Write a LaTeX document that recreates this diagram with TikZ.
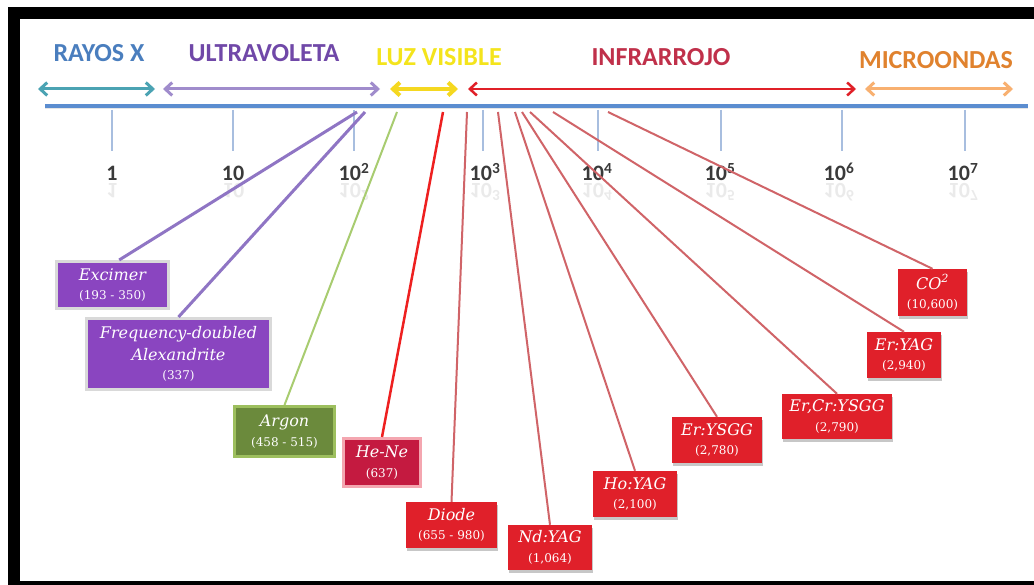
\documentclass[tikz,border=0pt]{standalone}
\usepackage{fontspec}
\setmainfont{DejaVu Serif}
\newfontfamily\headfont{Carlito}
\usetikzlibrary{arrows.meta,shadows}
\definecolor{cRay}{HTML}{4A7EBE}
\definecolor{cUV}{HTML}{7048A8}
\definecolor{cVis}{HTML}{F4E41C}
\definecolor{cIR}{HTML}{C0304A}
\definecolor{cMW}{HTML}{E0822E}
\definecolor{aRay}{HTML}{4BA3B3}
\definecolor{aUV}{HTML}{A08CCC}
\definecolor{aVis}{HTML}{F5D820}
\definecolor{aIR}{HTML}{E02028}
\definecolor{aMW}{HTML}{F8B070}
\definecolor{axisblue}{HTML}{5B8DD0}
\definecolor{tickblue}{HTML}{A8BEDF}
\definecolor{ticktext}{HTML}{3A3A3A}
\definecolor{lnPurple}{HTML}{8F75C4}
\definecolor{lnGreen}{HTML}{A8CC70}
\definecolor{lnBright}{HTML}{EE2020}
\definecolor{lnRed}{HTML}{D06468}
\definecolor{fPurple}{HTML}{8A45C0}
\definecolor{fGreen}{HTML}{6B8A3C}
\definecolor{bGreen}{HTML}{9DBF5E}
\definecolor{fCrimson}{HTML}{C41A40}
\definecolor{bPink}{HTML}{F4A6B0}
\definecolor{fRed}{HTML}{E0202A}
\newcommand\lzname[1]{\itshape #1}
\newcommand\lznum[1]{{\fontsize{12}{19}\selectfont #1}}
\tikzset{
  head/.style={font=\headfont\bfseries\fontsize{26}{30}\selectfont, inner sep=0pt},
  ticklabel/.style={font=\headfont\bfseries\fontsize{22}{26}\selectfont, text=ticktext, inner sep=0pt, anchor=base},
  tickline/.style={draw=tickblue, line width=1.2pt},
  rangearrow/.style={line width=3pt, {Straight Barb[length=7pt,width=13pt]}-{Straight Barb[length=7pt,width=13pt]}},
  laserbox/.style={rectangle, align=center, text=white, inner sep=0pt, font=\fontsize{16}{19.5}\selectfont},
  purplebox/.style={laserbox, fill=fPurple, draw=black!15, line width=3pt},
  greenbox/.style={laserbox, fill=fGreen, draw=bGreen, line width=3pt},
  crimsonbox/.style={laserbox, fill=fCrimson, draw=bPink, line width=3pt},
  redbox/.style={laserbox, fill=fRed, general shadow={fill=black!22, shadow xshift=1pt, shadow yshift=-3pt}},
  conn/.style={line width=2pt},
}
\begin{document}
\begin{tikzpicture}[x=1pt,y=-1pt]
\useasboundingbox (0,0) rectangle (1034,585);
% frame
\fill[black] (8,7) rectangle (1034,585);
\fill[white] (20,19) rectangle (1034,581);

% headings
\node[head, text=cRay] (hray) at (99,53) {RAYOS X};
\node[head, text=cUV] (huv) at (264,53) {ULTRAVOLETA};
\node[head, text=cVis] (hvis) at (439,57) {LUZ VISIBLE};
\node[head, text=cIR] (hir) at (661,57) {INFRARROJO};
\node[head, text=cMW] (hmw) at (936,60) {MICROONDAS};

% range arrows
\coordinate (ra1) at (38,89);  \coordinate (ra2) at (155,89);
\coordinate (ru1) at (163,89); \coordinate (ru2) at (380,89);
\coordinate (rv1) at (390,89); \coordinate (rv2) at (458,89);
\coordinate (ri1) at (468,89); \coordinate (ri2) at (856,89);
\coordinate (rm1) at (865,89); \coordinate (rm2) at (1013,89);
\draw[rangearrow, draw=aRay] (ra1) -- (ra2);
\draw[rangearrow, draw=aUV] (ru1) -- (ru2);
\draw[rangearrow, draw=aVis, line width=4pt] (rv1) -- (rv2);
\draw[rangearrow, draw=aIR, line width=2.5pt] (ri1) -- (ri2);
\draw[rangearrow, draw=aMW] (rm1) -- (rm2);

% axis
\coordinate (axL) at (45,106);
\coordinate (axR) at (1028,106);
\draw[black!10, line width=2pt] ([yshift=-2.5pt]axL) -- ([yshift=-2.5pt]axR);
\draw[axisblue, line width=4pt] (axL) -- (axR);

% ticks
\foreach \n/\x in {t1/112,t2/233,t3/354,t4/483,t5/598,t6/721,t7/842,t8/965}{
  \coordinate (\n) at (\x,110);
  \coordinate (\n b) at (\x,151);
  \draw[tickline] (\n) -- (\n b);
}
% tick labels and their faint reflections
\foreach \n/\x/\t in {l1/112/1,l2/233/10,l3/354/10\textsuperscript{2},l4/485/10\textsuperscript{3},l5/597/10\textsuperscript{4},l6/720/10\textsuperscript{5},l7/839/10\textsuperscript{6},l8/963/10\textsuperscript{7}}{
  \node[ticklabel] (\n) at (\x,181) {\t};
  \node[ticklabel, opacity=0.1, anchor=north] (\n r) at (\x,183) {\scalebox{1}[-1]{\t}};
}

% laser boxes
\node[purplebox, minimum width=112, minimum height=47] (excimer) at (112.5,285) {\lzname{Excimer}\\\lznum{(193 - 350)}};
\node[purplebox, minimum width=184, minimum height=71] (fda) at (178.5,354) {\lzname{Frequency-doubled}\\[2pt]\lzname{Alexandrite}\\\lznum{(337)}};
\node[greenbox, minimum width=100, minimum height=50] (argon) at (284.5,431.5) {\lzname{Argon}\\\lznum{(458 - 515)}};
\node[crimsonbox, minimum width=77, minimum height=48] (hene) at (382,462.5) {\lzname{He-Ne}\\\lznum{(637)}};
\node[redbox, minimum width=91, minimum height=46] (diode) at (451.5,525) {\lzname{Diode}\\\lznum{(655 - 980)}};
\node[redbox, minimum width=84, minimum height=45] (ndyag) at (550,547.5) {\lzname{Nd:YAG}\\\lznum{(1,064)}};
\node[redbox, minimum width=84, minimum height=46] (hoyag) at (635,494) {\lzname{Ho:YAG}\\\lznum{(2,100)}};
\node[redbox, minimum width=90, minimum height=46] (erysgg) at (717,440) {\lzname{Er:YSGG}\\\lznum{(2,780)}};
\node[redbox, minimum width=110, minimum height=45] (ercr) at (837,416.5) {\lzname{Er,Cr:YSGG}\\\lznum{(2,790)}};
\node[redbox, minimum width=74, minimum height=46] (eryag) at (904,355) {\lzname{Er:YAG}\\\lznum{(2,940)}};
\node[redbox, minimum width=69, minimum height=47] (co2) at (932.5,292.5) {\lzname{CO\textsuperscript{2}}\\\lznum{(10,600)}};

% connectors from the axis
\coordinate (pexc) at (357,112);
\coordinate (pfda) at (365,112);
\coordinate (parg) at (397,112);
\coordinate (phn) at (443,112);
\coordinate (pdi) at (467,112);
\coordinate (pnd) at (498,112);
\coordinate (pho) at (515,112);
\coordinate (pery) at (522,112);
\coordinate (percr) at (530,112);
\coordinate (peryag) at (553,112);
\coordinate (pco) at (608,112);
\draw[conn, lnPurple, line width=3pt] (pexc) -- (excimer.75);
\draw[conn, lnPurple, line width=3pt] (pfda) -- (fda.north);
\draw[conn, lnGreen] (parg) -- (argon.north);
\draw[conn, lnBright, line width=2.5pt] (phn) -- (hene.north);
\draw[conn, lnRed] (pdi) -- (diode.north);
\draw[conn, lnRed] (pnd) -- (ndyag.north);
\draw[conn, lnRed] (pho) -- (hoyag.north);
\draw[conn, lnRed] (pery) -- (erysgg.north);
\draw[conn, lnRed] (percr) -- (ercr.north);
\draw[conn, lnRed] (peryag) -- (eryag.north);
\draw[conn, lnRed] (pco) -- (co2.north);
\end{tikzpicture}
\end{document}
